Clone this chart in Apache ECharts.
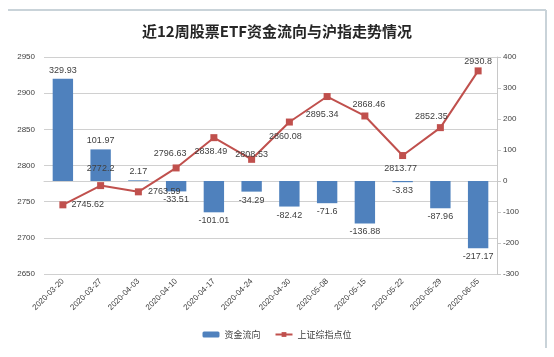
<!DOCTYPE html>
<html><head><meta charset="utf-8">
<script src="https://cdn.jsdelivr.net/npm/echarts@6/dist/echarts.min.js"></script>
<style>html,body{margin:0;padding:0;background:#fff}#c{width:554px;height:357px}</style>
</head><body><div id="c"></div>
<script>
var categories = ['2020-03-20','2020-03-27','2020-04-03','2020-04-10','2020-04-17','2020-04-24','2020-04-30','2020-05-08','2020-05-15','2020-05-22','2020-05-29','2020-06-05'];
var flowValues = [329.93, 101.97, 2.17, -33.51, -101.01, -34.29, -82.42, -71.6, -136.88, -3.83, -87.96, -217.17];
var indexValues = [2745.62, 2772.2, 2763.59, 2796.63, 2838.49, 2808.53, 2860.08, 2895.34, 2868.46, 2813.77, 2852.35, 2930.8];
var leftTicks = [2650, 2700, 2750, 2800, 2850, 2900, 2950];
var rightTicks = [-300, -200, -100, 0, 100, 200, 300, 400];

var lineLabelCfg = [
  {position:'right', distance:5},
  {position:'top', distance:9},
  {position:'right', distance:6},
  {position:'top', distance:6, offset:[-6,0]},
  {position:'bottom', distance:6, offset:[-3,0]},
  {position:'top', distance:-3},
  {position:'bottom', distance:6, offset:[-4,0]},
  {position:'bottom', distance:10, offset:[-5,0]},
  {position:'top', distance:3, offset:[4,0]},
  {position:'bottom', distance:5, offset:[-2,0]},
  {position:'top', distance:3, offset:[-9,0]},
  {position:'top', distance:1}
];

var chart = echarts.init(document.getElementById('c'), null, {renderer:'canvas'});
var txt = '#404040';
var font = '"Liberation Sans", "Noto Sans CJK SC", sans-serif';
chart.setOption({
  animation:false,
  backgroundColor:'#fff',
  textStyle:{fontFamily:font},
  title:{
    text:'近12周股票ETF资金流向与沪指走势情况',
    left:'center', top:24, padding:0,
    textStyle:{fontSize:15, fontWeight:'bold', color:'#262626', fontFamily:'"Noto Sans CJK SC", sans-serif'}
  },
  legend:{
    bottom:13, left:'center',
    itemWidth:17, itemHeight:6, itemGap:14,
    textStyle:{fontSize:9, color:txt, fontFamily:'"Noto Sans CJK SC", sans-serif'},
    data:['资金流向','上证综指点位']
  },
  graphic:[
    {type:'line', shape:{x1:8,y1:10,x2:546,y2:10}, style:{stroke:'#c9d3d9', lineWidth:2}},
    {type:'line', shape:{x1:546,y1:10,x2:546,y2:348}, style:{stroke:'#c9d3d9', lineWidth:2}}
  ],
  grid:{left:44, right:57, top:57, bottom:83, containLabel:false},
  xAxis:{
    type:'category', data:categories,
    axisLine:{show:true, lineStyle:{color:'#d0d0d0'}},
    axisTick:{show:false},
    axisLabel:{rotate:45, fontSize:8, color:txt, margin:6, interval:0}
  },
  yAxis:[
    {type:'value', min:leftTicks[0], max:leftTicks[leftTicks.length-1], interval:50,
     axisLine:{show:false}, axisTick:{show:false},
     axisLabel:{fontSize:8, color:txt, margin:9, formatter:function(v){return String(v);}},
     splitLine:{show:true, lineStyle:{color:'#d0d0d0', width:1}}},
    {type:'value', min:rightTicks[0], max:rightTicks[rightTicks.length-1], interval:100,
     position:'right',
     axisLine:{show:true, lineStyle:{color:'#c8c8c8'}},
     axisTick:{show:true, inside:false, length:4, lineStyle:{color:'#c8c8c8'}},
     axisLabel:{fontSize:8, color:txt, margin:6, formatter:function(v){return String(v);}},
     splitLine:{show:false}}
  ],
  series:[
    {name:'资金流向', type:'bar', yAxisIndex:1, barWidth:'54%',
     itemStyle:{color:'#4f81bd'},
     data:flowValues.map(function(v){
       return {value:v, label:{show:true, position: v>=0?'top':'bottom', distance:4}};
     }),
     label:{fontSize:9, color:txt}
    },
    {name:'上证综指点位', type:'line', yAxisIndex:0,
     symbol:'rect', symbolSize:7,
     lineStyle:{color:'#c0504d', width:2},
     itemStyle:{color:'#c0504d'},
     label:{show:true, fontSize:9, color:txt},
     data:indexValues.map(function(v,i){
       return {value:v, label:lineLabelCfg[i]};
     })
    }
  ]
});
</script></body></html>
